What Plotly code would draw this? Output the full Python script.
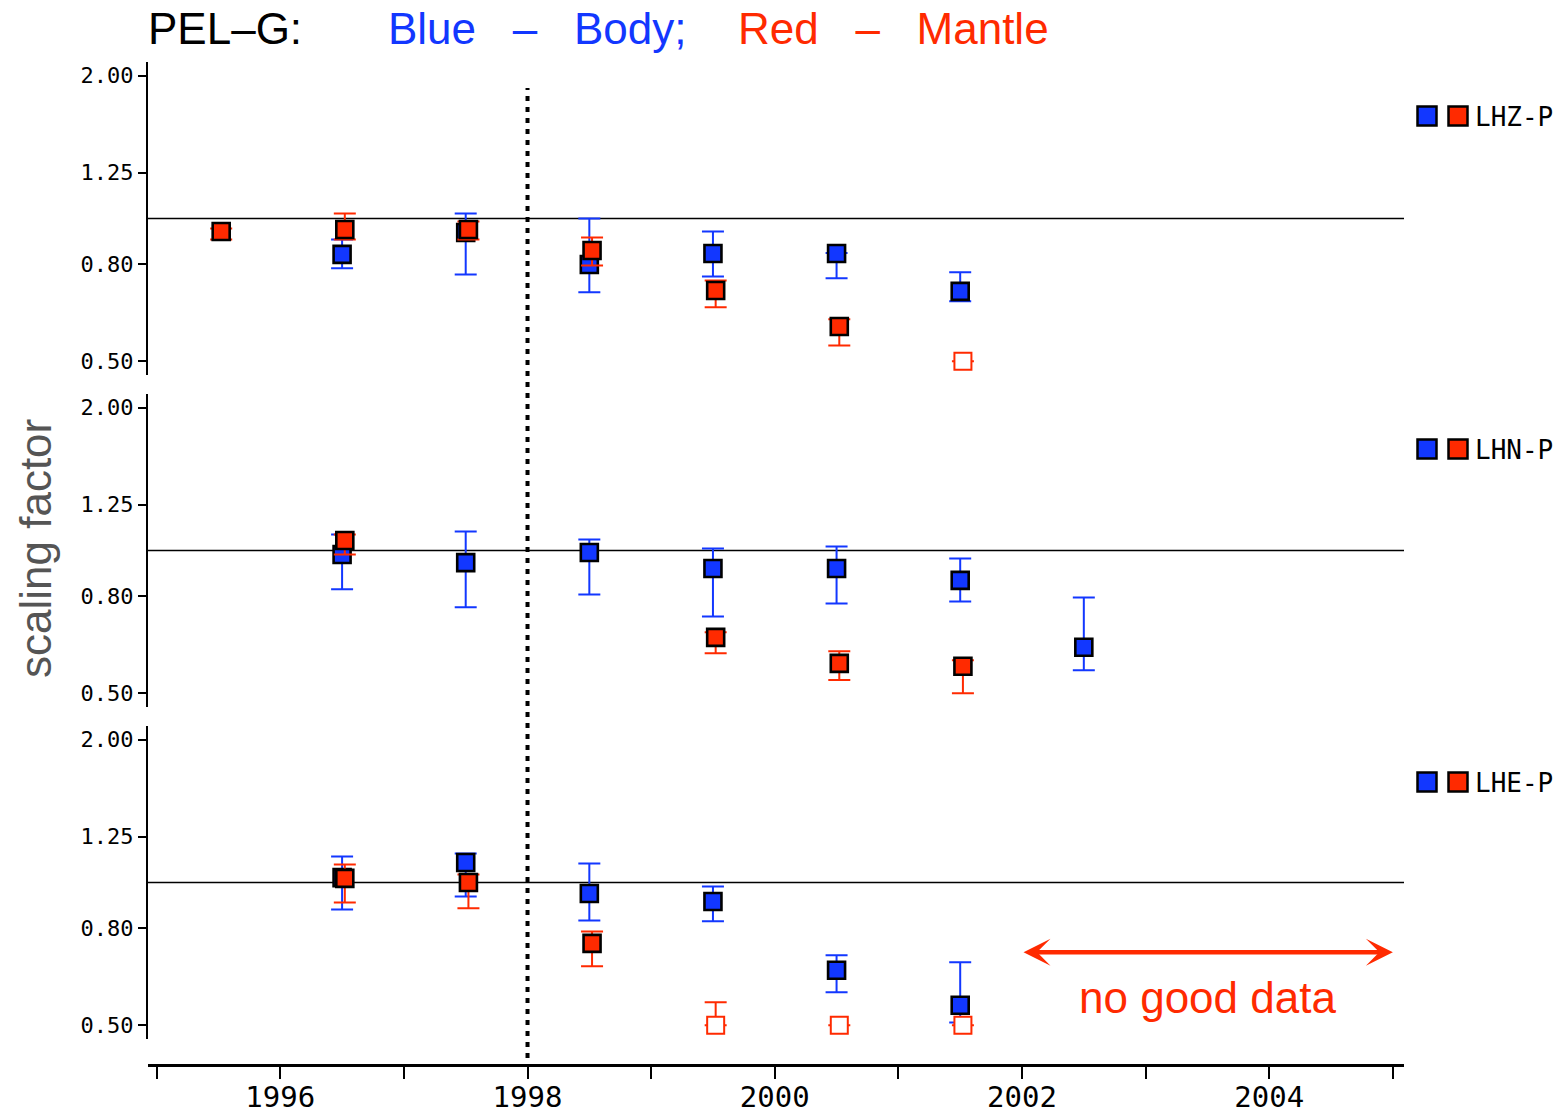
import plotly.graph_objects as go

# ---------------- data (scaling factors) ----------------
BLUE = "#1237FF"
RED = "#FF2A00"

# LHZ-P
z_body_t  = [1996.5, 1997.5, 1998.5, 1999.5, 2000.5, 2001.5]
z_body    = [0.840, 0.934, 0.800, 0.844, 0.844, 0.702]
z_body_hi = [0.903, 1.024, 1.000, 0.939, 0.846, 0.770]
z_body_lo = [0.785, 0.762, 0.699, 0.755, 0.748, 0.669]
z_mant_t  = [1995.5, 1996.5, 1997.5, 1998.5, 1999.5, 2000.5]
z_mant    = [0.939, 0.948, 0.948, 0.856, 0.705, 0.592]
z_mant_hi = [0.953, 1.024, 0.986, 0.912, 0.740, 0.613]
z_mant_lo = [0.903, 0.903, 0.903, 0.796, 0.650, 0.540]
z_bad_t   = [2001.5]
z_bad     = [0.50]
z_bad_hi  = [0.50]
z_bad_lo  = [0.50]

# LHN-P
n_body_t  = [1996.5, 1997.5, 1998.5, 1999.5, 2000.5, 2001.5, 2002.5]
n_body    = [0.981, 0.943, 0.990, 0.916, 0.916, 0.865, 0.625]
n_body_hi = [1.081, 1.096, 1.055, 1.010, 1.020, 0.962, 0.796]
n_body_lo = [0.828, 0.759, 0.808, 0.726, 0.773, 0.781, 0.559]
n_mant_t  = [1996.5, 1999.5, 2000.5, 2001.5]
n_mant    = [1.050, 0.656, 0.578, 0.570]
n_mant_hi = [1.081, 0.672, 0.613, 0.587]
n_mant_lo = [0.981, 0.607, 0.533, 0.500]
n_bad_t, n_bad, n_bad_hi, n_bad_lo = [], [], [], []

# LHE-P
e_body_t  = [1996.5, 1997.5, 1998.5, 1999.5, 2000.5, 2001.5]
e_body    = [1.024, 1.102, 0.948, 0.912, 0.653, 0.551]
e_body_hi = [1.134, 1.151, 1.096, 0.981, 0.702, 0.679]
e_body_lo = [0.877, 0.934, 0.832, 0.828, 0.587, 0.507]
e_mant_t  = [1996.5, 1997.5, 1998.5]
e_mant    = [1.020, 1.000, 0.744]
e_mant_hi = [1.091, 1.040, 0.788]
e_mant_lo = [0.908, 0.882, 0.666]
e_bad_t   = [1999.5, 2000.5, 2001.5]
e_bad     = [0.50, 0.50, 0.50]
e_bad_hi  = [0.559, 0.50, 0.50]
e_bad_lo  = [0.50, 0.50, 0.50]

components = ["LHZ-P", "LHN-P", "LHE-P"]
y_tickvals = [0.50, 0.80, 1.25, 2.00]
y_ticktext = ["0.50", "0.80", "1.25", "2.00"]
x_tickvals = list(range(1995, 2006))
x_ticktext = [str(y) if y % 2 == 0 else "" for y in x_tickvals]
reference_level = 1.0
split_year = 1998.0
X_RANGE = [1994.93, 2005.09]

panels = [
    dict(body=(z_body_t, z_body, z_body_hi, z_body_lo),
         mant=(z_mant_t, z_mant, z_mant_hi, z_mant_lo),
         bad=(z_bad_t, z_bad, z_bad_hi, z_bad_lo)),
    dict(body=(n_body_t, n_body, n_body_hi, n_body_lo),
         mant=(n_mant_t, n_mant, n_mant_hi, n_mant_lo),
         bad=(n_bad_t, n_bad, n_bad_hi, n_bad_lo)),
    dict(body=(e_body_t, e_body, e_body_hi, e_body_lo),
         mant=(e_mant_t, e_mant, e_mant_hi, e_mant_lo),
         bad=(e_bad_t, e_bad, e_bad_hi, e_bad_lo)),
]

# ---------------- layout geometry ----------------
W, H = 1566, 1117
ML, MR, MT, MB = 148, 162, 62, 52
PW = W - ML - MR
PH = H - MT - MB


def fx(px):
    return (px - ML) / PW


def fy(py):
    return (H - MB - py) / PH


panel_px = [(62, 375), (394, 707), (726, 1039)]
RED_DODGE = 0.022
NB = "\u00a0"

fig = go.Figure()

for i, p in enumerate(panels):
    yname = "y" if i == 0 else f"y{i+1}"
    # reference line at 1.0
    fig.add_trace(go.Scatter(x=X_RANGE, y=[reference_level] * 2, mode="lines",
                             line=dict(color="black", width=1.6),
                             xaxis="x", yaxis=yname, showlegend=False, hoverinfo="skip"))
    for key, col, dodge in (("body", BLUE, 0.0), ("mant", RED, RED_DODGE), ("bad", RED, RED_DODGE)):
        t, v, hi, lo = p[key]
        if not t:
            continue
        is_bad = key == "bad"
        fig.add_trace(go.Scatter(
            x=[a + dodge for a in t], y=v, mode="markers",
            xaxis="x", yaxis=yname, showlegend=False,
            marker=dict(symbol="square", size=17,
                        color="white" if is_bad else col,
                        line=dict(color=col if is_bad else "black", width=2 if is_bad else 2.6)),
            error_y=dict(type="data", symmetric=False,
                         array=[h - a for h, a in zip(hi, v)],
                         arrayminus=[a - l for a, l in zip(v, lo)],
                         color=col, thickness=2, width=11),
        ))

axis_common = dict(type="log", range=[-0.33, 0.33], tickvals=y_tickvals, ticktext=y_ticktext,
                   ticks="outside", ticklen=8, tickwidth=2, tickcolor="black",
                   showline=True, linewidth=2, linecolor="black", anchor="x",
                   showgrid=False, zeroline=False, automargin=False,
                   tickfont=dict(family="DejaVu Sans Mono", size=22, color="black"))

layout_axes = {}
for i, (top, bot) in enumerate(panel_px):
    name = "yaxis" if i == 0 else f"yaxis{i+1}"
    layout_axes[name] = dict(axis_common, domain=[fy(bot), fy(top)])

shapes = [dict(type="line", xref="x", yref="paper", x0=split_year, x1=split_year,
               y0=fy(1058), y1=fy(88), line=dict(color="black", width=4, dash="5px,6px"))]

title_font = dict(family="Liberation Sans", size=44)
annotations = [
    dict(text="PEL–G:", xref="paper", yref="paper", x=fx(146), y=fy(28), xanchor="left",
         yanchor="middle", showarrow=False, font=dict(title_font, color="black")),
    dict(text=f"Blue{NB*3}–{NB*3}Body;", xref="paper", yref="paper", x=fx(386), y=fy(28),
         xanchor="left", yanchor="middle", showarrow=False, font=dict(title_font, color=BLUE)),
    dict(text=f"Red{NB*3}–{NB*3}Mantle", xref="paper", yref="paper", x=fx(736), y=fy(28),
         xanchor="left", yanchor="middle", showarrow=False, font=dict(title_font, color=RED)),
    dict(text="scaling factor", xref="paper", yref="paper", x=fx(35), y=fy(549), textangle=-90,
         xanchor="center", yanchor="middle", showarrow=False,
         font=dict(family="Liberation Sans", size=44, color="#555555")),
    # "no good data" arrow
    dict(text="", xref="x", yref="y3", x=2005.0, y=-0.147, axref="x", ayref="y3",
         ax=2002.0, ay=-0.147, showarrow=True, arrowhead=3, startarrowhead=3,
         arrowside="end+start", arrowsize=1, startarrowsize=1, arrowwidth=4.5,
         arrowcolor=RED, standoff=0, startstandoff=0),
    dict(text="no good data", xref="x", yref="paper", x=2003.5, y=fy(997),
         xanchor="center", yanchor="middle", showarrow=False,
         font=dict(family="Liberation Sans", size=44, color=RED)),
]

# legend-like markers on the right of each panel
legend_cy = [116, 449, 782]
for cy, label in zip(legend_cy, components):
    for cx, col in ((1427, BLUE), (1458, RED)):
        shapes.append(dict(type="rect", xref="paper", yref="paper",
                           x0=fx(cx - 9.5), x1=fx(cx + 9.5), y0=fy(cy + 9.5), y1=fy(cy - 9.5),
                           fillcolor=col, line=dict(color="black", width=2.5)))
    annotations.append(dict(text=label, xref="paper", yref="paper", x=fx(1473), y=fy(cy + 1),
                            xanchor="left", yanchor="middle", showarrow=False,
                            font=dict(family="DejaVu Sans Mono", size=26, color="black")))

fig.update_layout(
    width=W, height=H,
    margin=dict(l=ML, r=MR, t=MT, b=MB, pad=0, autoexpand=False),
    paper_bgcolor="white", plot_bgcolor="white",
    showlegend=False,
    xaxis=dict(range=X_RANGE, anchor="free", position=0, tickvals=x_tickvals, ticktext=x_ticktext,
               ticks="outside", ticklen=12, tickwidth=1.6, tickcolor="black",
               showline=True, linewidth=2.5, linecolor="black", showgrid=False, zeroline=False,
               automargin=False, ticklabelstandoff=-7,
               tickfont=dict(family="DejaVu Sans Mono", size=29, color="black")),
    shapes=shapes,
    annotations=annotations,
    **layout_axes,
)

fig.write_html("out.html", config={"displayModeBar": False},
               post_script="document.body.style.margin='0';")
